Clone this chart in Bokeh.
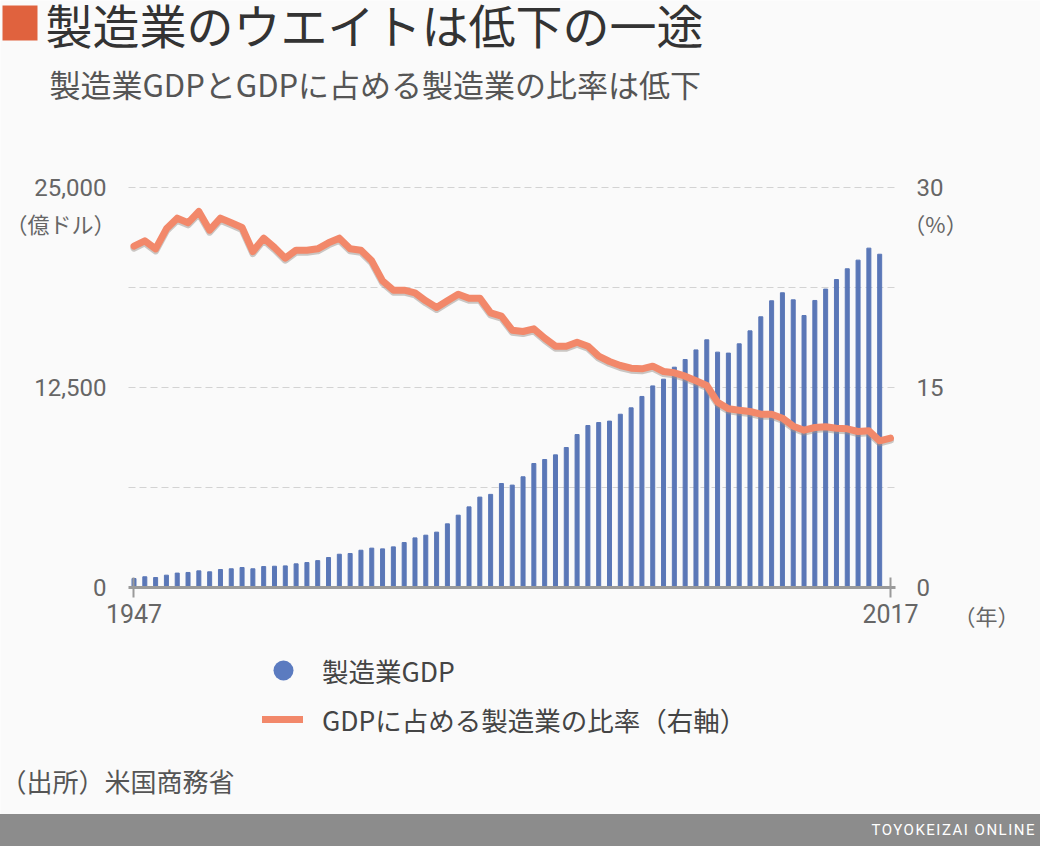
from bokeh.plotting import figure
from bokeh.models import (Range1d, LinearAxis, FixedTicker, NumeralTickFormatter, Label,
                          Legend, LegendItem, Div, ColumnDataSource, BoxAnnotation)
from bokeh.layouts import column
from bokeh.embed import file_html
from bokeh.resources import INLINE

# ---------------- data ----------------
BAR_YEARS = list(range(1947, 2017))
GDP = [560, 670, 625, 770, 900, 940, 1040, 980, 1125, 1170,
       1250, 1170, 1310, 1330, 1350, 1480, 1560, 1680, 1875, 2080,
       2125, 2330, 2460, 2415, 2540, 2810, 3100, 3270, 3460, 3980,
       4520, 5040, 5650, 5820, 6500, 6400, 6920, 7750, 8000, 8290,
       8750, 9560, 10125, 10310, 10400, 10830, 11230, 11940, 12600, 13020,
       13770, 14250, 14850, 15480, 14710, 14650, 15230, 16040, 16920, 17920,
       18420, 17980, 17000, 17940, 18650, 19250, 19920, 20460, 21210, 20830]
LINE_YEARS = list(range(1947, 2018))
RATIO = [25.6, 26.0, 25.4, 26.9, 27.7, 27.35, 28.2, 26.8, 27.7, 27.35,
         27.0, 25.2, 26.2, 25.5, 24.7, 25.3, 25.3, 25.4, 25.85, 26.2,
         25.4, 25.3, 24.5, 23.0, 22.3, 22.3, 22.1, 21.5, 21.0, 21.5,
         22.0, 21.7, 21.7, 20.6, 20.35, 19.3, 19.2, 19.4, 18.7, 18.1,
         18.1, 18.4, 18.1, 17.35, 16.95, 16.65, 16.45, 16.4, 16.6, 16.2,
         16.1, 15.85, 15.5, 15.15, 13.9, 13.4, 13.3, 13.2, 13.0, 13.0,
         12.7, 12.1, 11.8, 12.0, 12.05, 11.95, 11.9, 11.7, 11.75, 11.0,
         11.2]
LEFT_TICKS = [0, 12500, 25000]
RIGHT_TICKS = [0, 15, 30]
X_TICKS = [1947, 2017]
GRID_TICKS = [6250, 12500, 18750, 25000]

TITLE = "製造業のウエイトは低下の一途"
SUBTITLE = "製造業GDPとGDPに占める製造業の比率は低下"
SERIES_BAR = "製造業GDP"
SERIES_LINE = "GDPに占める製造業の比率（右軸）"
LEFT_UNIT = "（億ドル）"
RIGHT_UNIT = "（%）"
X_UNIT = "（年）"
SOURCE = "（出所）米国商務省"
BRAND = "TOYOKEIZAI ONLINE"

# ---------------- layout constants ----------------
BG = "#fafafa"
BAR_C = "#5a77b7"
LINE_C = "#f2886a"
JP = "Noto Sans CJK JP"
W, H = 1040, 814
X0, X1 = 1934.647, 2030.881          # whole canvas in years
PX, PX_END = 1946.49, 2017.46        # plot area edges in years
Y0, Y1 = -14187.5, 36687.5           # whole canvas in 億ドル
R0, R1 = -17.025, 44.025             # whole canvas in %

p = figure(width=W, height=H, output_backend="svg", toolbar_location=None,
           x_range=Range1d(X0, X1), y_range=Range1d(Y0, Y1), min_border=0,
           background_fill_color=BG, border_fill_color=BG, outline_line_color=None)
p.extra_y_ranges = {"pct": Range1d(R0, R1), "shadow": Range1d(R0 + 0.15, R1 + 0.15)}
p.xgrid.visible = False
p.ygrid.visible = False

# dashed gridlines limited to the plot area
p.segment(x0=[PX] * len(GRID_TICKS), x1=[PX_END] * len(GRID_TICKS),
          y0=GRID_TICKS, y1=GRID_TICKS, line_color="#d3d3d3", line_width=1,
          line_dash="7 4")

# bars
src_bar = ColumnDataSource(dict(x=BAR_YEARS, top=GDP))
p.vbar(x="x", top="top", bottom=0, width=0.37, source=src_bar, color=BAR_C)

# invisible (size 0) markers on the bar data, used only for the round legend key
dot = p.scatter(x="x", y="top", source=src_bar, marker="circle", size=0,
                fill_color="#5b7bc0", line_color=None)

# line with soft shadow
src_line = ColumnDataSource(dict(x=LINE_YEARS, y=RATIO))
p.line(x="x", y="y", source=src_line, y_range_name="shadow", line_width=7,
       color="#9a928c", alpha=0.5, line_join="round", line_cap="round")
ln = p.line(x="x", y="y", source=src_line, y_range_name="pct", line_width=7,
            color=LINE_C, line_join="round", line_cap="round")

# axes (fixed inside the canvas)
TICK_FONT = "Roboto"
xa = p.xaxis[0]
xa.fixed_location = 0
xa.bounds = (PX, PX_END)
xa.ticker = FixedTicker(ticks=X_TICKS)
xa.axis_line_color = "#9a9a9a"
xa.axis_line_width = 3
xa.major_tick_line_color = "#9a9a9a"
xa.major_tick_line_width = 2
xa.major_tick_in = 10
xa.major_tick_out = 10
xa.minor_tick_line_color = None
xa.major_label_standoff = 6
xa.major_label_text_font = TICK_FONT
xa.major_label_text_font_size = "25px"
xa.major_label_text_color = "#666666"

ya = p.yaxis[0]
ya.fixed_location = PX
ya.bounds = (0, 25000)
ya.ticker = FixedTicker(ticks=LEFT_TICKS)
ya.formatter = NumeralTickFormatter(format="0,0")
ya.axis_line_color = None
ya.major_tick_line_color = None
ya.minor_tick_line_color = None
ya.major_label_standoff = 16
ya.major_label_text_font = TICK_FONT
ya.major_label_text_font_size = "24px"
ya.major_label_text_color = "#666666"

ra = LinearAxis(y_range_name="pct", ticker=FixedTicker(ticks=RIGHT_TICKS),
                fixed_location=PX_END, bounds=(0, 30))
ra.axis_line_color = None
ra.major_tick_line_color = None
ra.minor_tick_line_color = None
ra.major_label_standoff = 15
ra.major_label_text_font = TICK_FONT
ra.major_label_text_font_size = "24px"
ra.major_label_text_color = "#666666"
p.add_layout(ra, "right")

# texts: screen units, origin at bottom-left of canvas
def lab(txt, x, y, size, color, align="left"):
    p.add_layout(Label(x=x, y=y, x_units="screen", y_units="screen", text=txt,
                       text_font=JP, text_font_size=size, text_color=color,
                       text_align=align, text_baseline="middle"))

p.add_layout(BoxAnnotation(left=2, right=37, top=H - 5, bottom=H - 40,
                           left_units="screen", right_units="screen",
                           top_units="screen", bottom_units="screen",
                           fill_color="#e0623e", fill_alpha=1, line_color=None))
lab(TITLE, 45, H - 23, "47px", "#333333")
lab(SUBTITLE, 49, H - 83, "31px", "#555555")
lab(LEFT_UNIT, 60, H - 222, "22px", "#666666", align="center")
lab(RIGHT_UNIT, 935, H - 222, "22px", "#666666", align="center")
lab(X_UNIT, 986, H - 614, "22px", "#666666", align="center")
lab(SOURCE, 0, H - 780, "26px", "#555555")

# legends
lg1 = Legend(items=[LegendItem(label=SERIES_BAR, renderers=[dot])],
             location=(258, H - 695), glyph_width=50, glyph_height=50,
             label_standoff=14, padding=0, margin=0, spacing=0,
             border_line_color=None, background_fill_alpha=0,
             label_text_font=JP, label_text_font_size="26.5px",
             label_text_color="#444444")
lg2 = Legend(items=[LegendItem(label=SERIES_LINE, renderers=[ln])],
             location=(262, H - 739), glyph_width=41, glyph_height=40,
             label_standoff=19, padding=0, margin=0, spacing=0,
             border_line_color=None, background_fill_alpha=0,
             label_text_font=JP, label_text_font_size="26.5px",
             label_text_color="#444444")
p.add_layout(lg1, "center")
p.add_layout(lg2, "center")

footer = Div(text=BRAND, width=W, height=32, margin=0,
             styles={"background-color": "#8c8c8c", "color": "#ffffff",
                     "font-family": "Roboto", "font-size": "15px",
                     "letter-spacing": "1.5px", "text-align": "right",
                     "line-height": "32px", "padding-right": "4px",
                     "box-sizing": "border-box", "width": "1040px"})

layout = column(p, footer, spacing=0)
open("out.html", "w").write(file_html(layout, INLINE))
